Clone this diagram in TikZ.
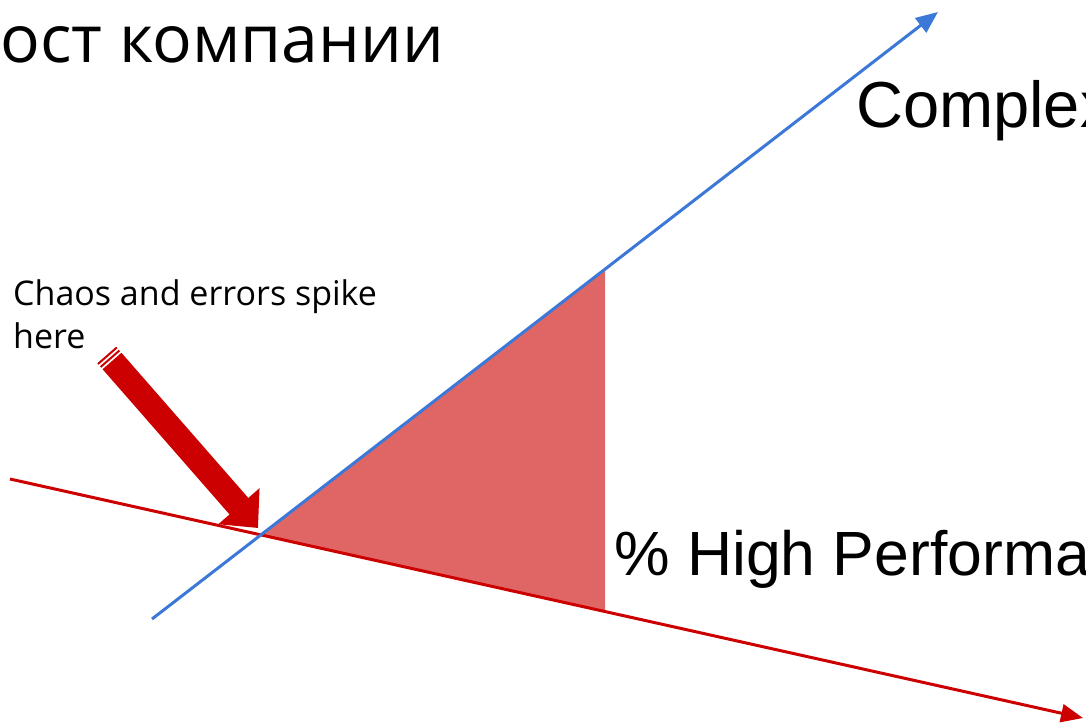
\documentclass[tikz,border=0pt]{standalone}
\usepackage{fontspec}
\setmainfont{Open Sans}
\newfontfamily\axisfont{Liberation Sans}
\usetikzlibrary{arrows.meta,calc}

\definecolor{axisblue}{HTML}{3C78D8}
\definecolor{axisred}{HTML}{CC0000}
\definecolor{zonered}{HTML}{E06666}

\begin{document}
\begin{tikzpicture}[
  x=1pt, y=-1pt,
  axis/.style={line width=3pt, -{Triangle[length=22pt, width=18pt]}},
  bigtxt/.style={anchor=base west, inner sep=0pt, font=\axisfont\fontsize{65}{78}\selectfont},
  note/.style={anchor=base west, inner sep=0pt, align=left,
               font=\fontsize{34}{43}\selectfont},
  pointer/.style={axisred, line width=25pt, -{Triangle[length=29pt, width=53pt]}}
]
\useasboundingbox (0,0) rectangle (1086,724);
\clip (0,0) rectangle (1086,724);

% ---------------- axes ----------------
\coordinate (blue0) at (152,619);
\coordinate (blue1) at (938,12);
\coordinate (red0) at (10,479);
\coordinate (red1) at (1083,718);
\coordinate (cross) at (intersection of blue0--blue1 and red0--red1);
\coordinate (zonetop) at (intersection of blue0--blue1 and 605,0--605,724);
\coordinate (zonebot) at (intersection of red0--red1 and 605,0--605,724);

% ---------------- shaded zone ----------------
\fill[zonered] (cross) -- (zonetop) -- (zonebot) -- cycle;

\draw[axis, axisred] (red0) -- (red1);
\draw[axis, axisblue] (blue0) -- (blue1);

% ---------------- labels ----------------
\node[bigtxt, font=\fontsize{66}{80}\selectfont] (title) at (0,62) {ост компании};
\node[bigtxt] (complex) at (856,127) {Complex};
\node[bigtxt, font=\axisfont\fontsize{62.5}{74}\selectfont] (perf) at (614,575) {\% High Performa};
\node[note] (chaos) at (13,348) {Chaos and errors spike\\here};

% ---------------- pointer arrow ----------------
\coordinate (ptail) at (112,361);
\coordinate (phead) at (258,528);
\draw[pointer] (ptail) -- (phead);
\foreach \d in {3,7} {
  \coordinate (s) at ($(ptail)!-\d pt!(phead)$);
  \draw[axisred, line width=2pt]
    ($(s)!12.5pt!90:(phead)$) -- ($(s)!12.5pt!-90:(phead)$);
}
\end{tikzpicture}
\end{document}
